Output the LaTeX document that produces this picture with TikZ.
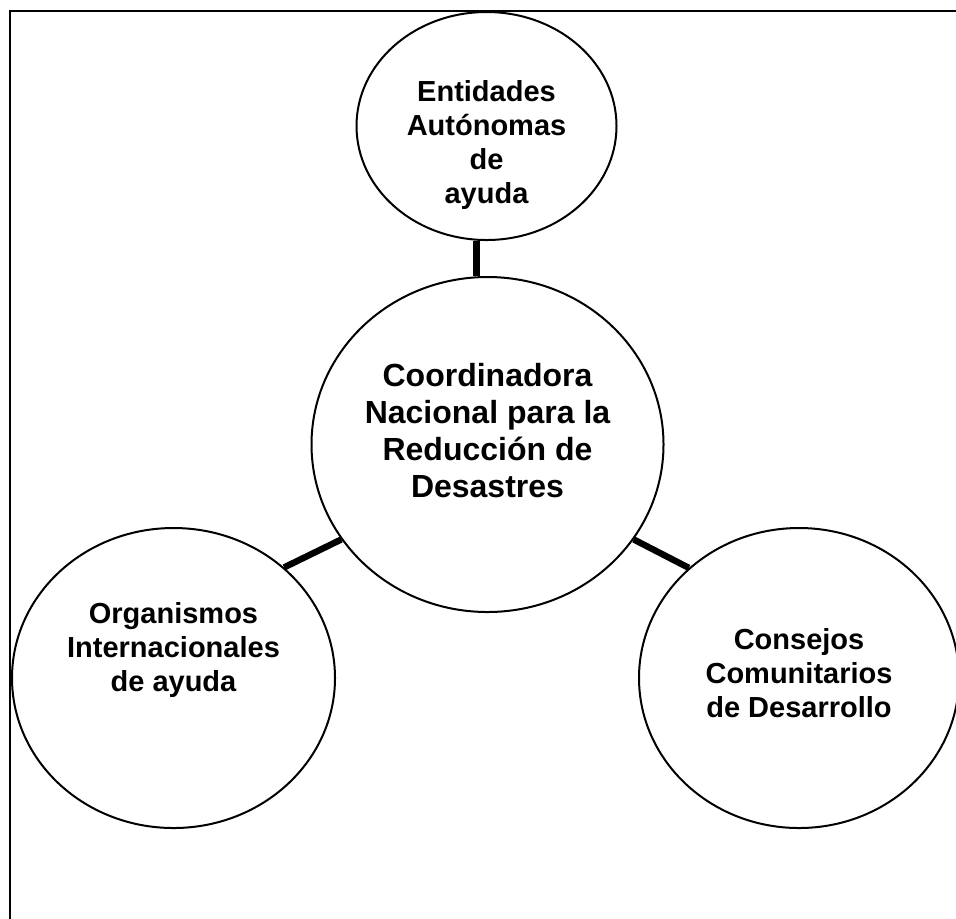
\documentclass[tikz,border=0pt]{standalone}
\usepackage{fontspec}
\setmainfont{Liberation Sans}
\usetikzlibrary{shapes.geometric}

\tikzset{
  bubble/.style={draw=black, line width=1pt, ellipse, inner sep=0pt, fill=white},
  bubbletext/.style={font=\fontsize{14.5}{17}\selectfont\bfseries, align=center, text=black},
  bigtext/.style={bubbletext, font=\fontsize{16}{18.5}\selectfont\bfseries},
  link/.style={draw=black, line width=3.2pt}
}

\begin{document}
\begin{tikzpicture}[x=0.5pt, y=-0.5pt]

% Page area
\clip (0,0) rectangle (956,918);
\useasboundingbox (0,0) rectangle (956,918);
\fill[white] (0,0) rectangle (956,918);

% Frame (runs off the right and bottom)
\draw[line width=1pt] (10,11) rectangle (1000,1000);

% Bubbles
\node[bubble, minimum width=130pt, minimum height=114pt] (entidades) at (486.5,126) {};
\node[bubble, minimum width=176pt, minimum height=167.5pt] (coordinadora) at (487.5,444.5) {};
\node[bubble, minimum width=161.5pt, minimum height=150pt] (organismos) at (173.5,678) {};
\node[bubble, minimum width=160pt, minimum height=150pt] (consejos) at (799,678) {};

% Texts
\node[bubbletext] (entidades-txt) at ([yshift=-9.5pt]entidades.center) {Entidades\\Autónomas\\de\\ayuda};
\node[bigtext] (coordinadora-txt) at ([yshift=7pt]coordinadora.center) {Coordinadora\\Nacional para la\\Reducción de\\Desastres};
\node[bubbletext] (organismos-txt) at ([yshift=14pt]organismos.center) {Organismos\\Internacionales\\de ayuda};
\node[bubbletext] (consejos-txt) at ([yshift=2.5pt]consejos.center) {Consejos\\Comunitarios\\de Desarrollo};

% Links
\draw[link] ([xshift=-5.5pt]coordinadora.north) -- ([xshift=-5.5pt]coordinadora.north |- entidades.south);
\draw[link] (coordinadora.213) -- (organismos.45);
\draw[link] (coordinadora.-33) -- (consejos.135);

\end{tikzpicture}
\end{document}
